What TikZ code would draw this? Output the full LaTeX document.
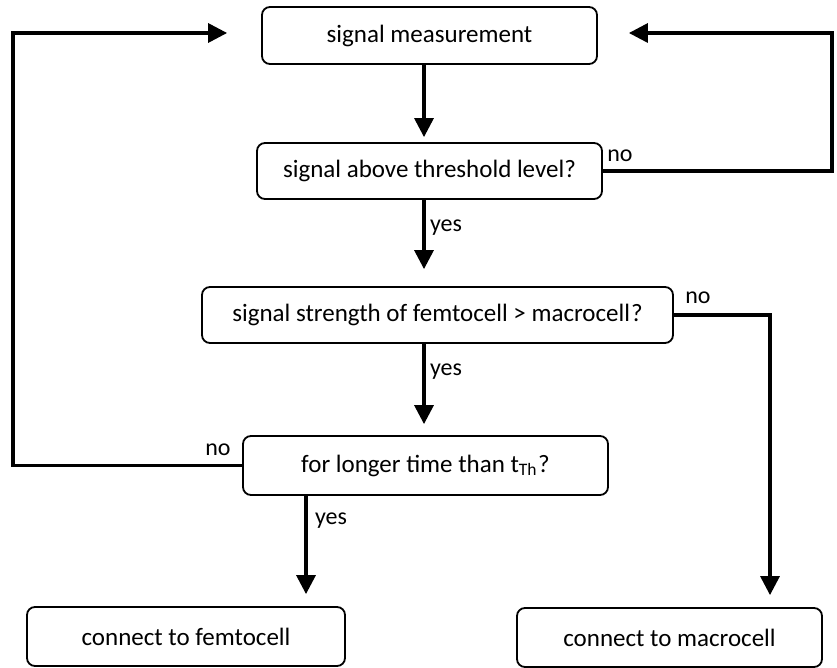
\documentclass[tikz,border=0pt]{standalone}
\usepackage{fontspec}
\setmainfont{Carlito}
\usetikzlibrary{arrows.meta}
\begin{document}
\begin{tikzpicture}[x=1pt,y=-1pt,
  box/.style={shape=rectangle,draw,line width=1.8pt,rounded corners=8pt,font=\fontsize{25}{28}\selectfont,inner sep=0pt},
  flow/.style={-{Triangle[length=19pt,width=19pt]},line width=3.3pt},
  lbl/.style={font=\fontsize{24}{28}\selectfont,inner sep=0pt}]
\useasboundingbox (0,0) rectangle (837,668);
\node[box,minimum width=335pt,minimum height=57pt](meas) at (429.5,35.5){signal measurement};
\node[box,minimum width=345pt,minimum height=56pt](thr) at (429.5,171){signal above threshold level?};
\node[box,minimum width=471pt,minimum height=56pt](cmp) at (437.5,315){signal strength of femtocell > macrocell\kern1pt?};
\node[box,minimum width=365pt,minimum height=59pt](tim) at (425.5,465.5){for longer time than t\textsubscript{Th}\kern1pt?};
\node[box,minimum width=318pt,minimum height=59pt](femto) at (186,636.5){connect to femtocell};
\node[box,minimum width=305pt,minimum height=59pt](macro) at (669.5,637.5){connect to macrocell};
% connectors
\draw[flow,shorten >=5pt] ([xshift=-5.5pt]meas.south) -- ([xshift=-5.5pt]thr.north);
\draw[flow,shorten >=17pt] ([xshift=-5.5pt]thr.south) -- ([xshift=-13.5pt]cmp.north);
\draw[flow,shorten >=11pt] ([xshift=-13.5pt]cmp.south) -- ([xshift=-1.5pt]tim.north);
\draw[flow,shorten >=12pt] ([xshift=-119.5pt]tim.south) -- ([xshift=120pt]femto.north);
\draw[flow,shorten >=12pt] (cmp.east) -| ([xshift=100.5pt]macro.north);
\draw[flow] (thr.east) -- (832,171) |- ([xshift=31pt,yshift=2.5pt]meas.east);
\draw[flow] (tim.west) -- (13,465.5) |- ([xshift=-34pt,yshift=2.5pt]meas.west);
% labels
\node[lbl](no1) at (620,156){no};
\node[lbl](yes1) at (446,228){yes};
\node[lbl](no2) at (698,298){no};
\node[lbl](yes2) at (446,372){yes};
\node[lbl](no3) at (218,450){no};
\node[lbl](yes3) at (331,521){yes};
\end{tikzpicture}
\end{document}
